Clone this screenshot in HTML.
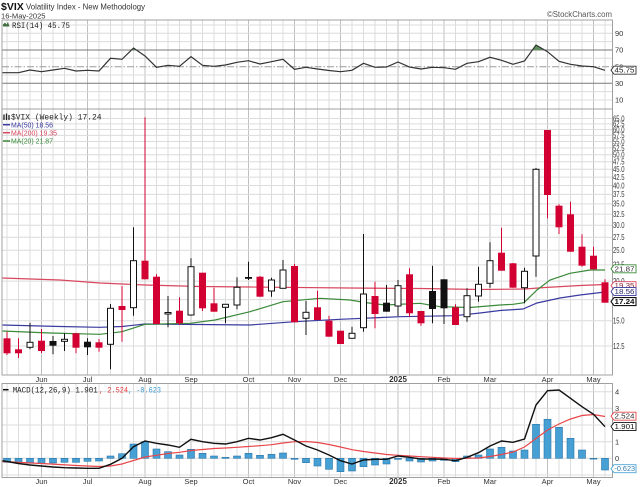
<!DOCTYPE html>
<html><head><meta charset="utf-8"><style>
html,body{margin:0;padding:0;background:#fff;}
svg{display:block;}
text{font-family:"Liberation Sans",sans-serif;}
.m{font-family:"Liberation Mono",monospace;}
</style></head><body>
<svg width="640" height="487" viewBox="0 0 640 487" xmlns="http://www.w3.org/2000/svg">
<defs>
<pattern id="vg" x="6.5" y="0" width="11.5" height="20" patternUnits="userSpaceOnUse"><rect width="1" height="20" fill="#dcdcdc"/></pattern>
</defs>
<rect width="640" height="487" fill="#fff"/>

<!-- header -->
<text x="1" y="10" font-size="10.5" font-weight="bold" fill="#111">$VIX</text>
<text x="26" y="9.5" font-size="8" fill="#333" textLength="119" lengthAdjust="spacingAndGlyphs">Volatility Index - New Methodology</text>
<text x="1" y="18.5" font-size="7.5" fill="#333" textLength="44.5" lengthAdjust="spacingAndGlyphs">16-May-2025</text>
<text x="547" y="17" font-size="8" fill="#555" textLength="65" lengthAdjust="spacingAndGlyphs">©StockCharts.com</text>

<!-- grid backgrounds (vertical weekly lines) -->
<rect x="2" y="20" width="610.5" height="89" fill="url(#vg)"/>
<rect x="2" y="109" width="610.5" height="266" fill="url(#vg)"/>
<rect x="2" y="383.5" width="610.5" height="94" fill="url(#vg)"/>

<!-- month vertical lines -->
<path d="M41.5 20V375M87.5 20V375M145 20V375M191 20V375M248.5 20V375M294.5 20V375M340.5 20V375M398 20V375M444 20V375M490 20V375M547.5 20V375M593.5 20V375
M41.5 383.5V477.5M87.5 383.5V477.5M145 383.5V477.5M191 383.5V477.5M248.5 383.5V477.5M294.5 383.5V477.5M340.5 383.5V477.5M398 383.5V477.5M444 383.5V477.5M490 383.5V477.5M547.5 383.5V477.5M593.5 383.5V477.5" stroke="#c0c0c0" stroke-width="1" fill="none"/>

<!-- horizontal grid RSI -->
<path d="M2 25H612.5M2 33.3H612.5M2 41.6H612.5M2 58.3H612.5M2 75H612.5M2 91.6H612.5M2 100H612.5" stroke="#dcdcdc" stroke-width="1"/>
<!-- horizontal grid main -->
<path d="M2 346H612.5M2 320.8H612.5M2 299.6H612.5M2 281.1H612.5M2 264.9H612.5M2 250.3H612.5M2 237.2H612.5M2 225.2H612.5M2 214.1H612.5M2 203.9H612.5M2 194.4H612.5M2 185.5H612.5M2 177.1H612.5M2 169.2H612.5M2 161.8H612.5M2 154.7H612.5M2 148H612.5M2 141.5H612.5M2 135.4H612.5M2 129.5H612.5M2 123.9H612.5M2 118.5H612.5" stroke="#dcdcdc" stroke-width="1"/>
<!-- horizontal grid MACD -->
<path d="M2 391.7H612.5M2 408.3H612.5M2 425H612.5M2 441.7H612.5M2 458.3H612.5M2 475H612.5" stroke="#dcdcdc" stroke-width="1"/>

<!-- RSI reference lines -->
<path d="M2 50H612.5M2 83.3H612.5" stroke="#7a7a7a" stroke-width="1"/>
<path d="M2 66.7H612.5" stroke="#9a9a9a" stroke-width="1" stroke-dasharray="7,2,1.5,2"/>

<!-- RSI overbought fill -->
<polygon points="532.4,50 536,45 544.6,50" fill="#5d8f5d"/>
<polygon points="131.5,50 133.5,48 136.4,50" fill="#5d8f5d"/>

<!-- RSI line -->
<polyline fill="none" stroke="#333" stroke-width="1.2" points="2,72.7 7,72.7 18.5,72.7 30,70 41.5,71.7 53,70 64.5,68.3 76,71 87.5,70.3 99,71 110.5,58.3 122,59.3 133.5,48 145,56 156.5,67.3 168,65.3 179.5,66.3 191,56.7 202.5,65.3 214,66.3 225.5,65 237,62.3 248.5,60.7 260,64 271.5,61.7 283,59.3 294.5,69.3 306,67.3 317.5,69 329,70.5 340.5,71.7 352,70.3 363.5,63.3 375,67.3 386.5,67 398,62 409.5,67 421,69 432.5,67.3 444,67.7 455.5,69.3 467,63.3 478.5,61.7 490,57.3 501.5,60.3 513,64.3 524.5,61 536,45 547.5,51.7 559,61.3 570.5,64.3 582,66 593.5,66.7 605,70.3"/>

<!-- MA lines -->
<polyline fill="none" stroke="#d9465e" stroke-width="1.2" points="2,278 60,280 100,283 145,285 200,286.5 250,287 350,288 420,288.5 480,289.5 525,289 545,287.5 580,285.5 605,284.5"/>
<polyline fill="none" stroke="#3a3aa0" stroke-width="1.2" points="2,325 60,326.5 100,327.3 122,326.5 145,324 200,324.5 250,325 295,321.7 340,319.3 400,316.7 455,315.7 480,313 500,310.5 523,309 537,303 560,298 580,295 605,292"/>
<polyline fill="none" stroke="#3a8a3a" stroke-width="1.2" points="2,331 50,333 100,334.3 122,331.7 145,324.3 190,323.3 215,320 250,311.7 283,301.7 320,298.3 350,300 365,302.5 385,305 420,303.3 440,306.7 470,307.5 500,305 513,304.3 524,302.7 537,290 550,280 570,273.3 590,270 605,270"/>

<!-- red wicks -->
<path fill="none" stroke="#d20032" stroke-width="1" d="M7 331.7V355M18.5 338.3V358M41.5 329V353M76 332.7V353.3M99 339V351.7M122 286V341.7M145 117.3V279.3M156.5 274.3V324M179.5 297.3V325M202.5 272.7V311M214 287.7V311.7M260 276V296.7M294.5 264V322.3M317.5 290.7V320M329 315.7V336.7M340.5 330.7V344M375 281.7V328.3M409.5 268.3V316.7M421 311V325.7M455.5 304.3V325M501.5 227.7V270.7M513 263V287.7M547.5 130V218.3M559 204.3V234M570.5 201.7V251.7M582 234.3V266.7M593.5 246.7V269.3M605 279.3V302.7"/>
<!-- black wicks -->
<path fill="none" stroke="#111" stroke-width="1" d="M30 322.7V349.3M53 336V354.3M64.5 333.3V351M87.5 338.3V355M110.5 304V369.3M133.5 227.3V315.7M168 296V327.3M191 258.3V315.7M225.5 304.3V323.3M237 277.3V309.3M248.5 261.7V280M271.5 277.7V296.7M283 260V288.3M306 301V335M352 326.7V338.3M363.5 234V331.7M386.5 285V311.7M398 280V316M432.5 265.7V323.3M444 279.3V324M467 288.3V321.7M478.5 266.7V301.7M490 242.3V287.7M524.5 267.7V303.3M536 168V276.7"/>

<!-- red bodies -->
<g fill="#d20032">
<rect x="3.5" y="338.3" width="7" height="15"/>
<rect x="15" y="349.3" width="7" height="4"/>
<rect x="38" y="340.7" width="7" height="10.3"/>
<rect x="72.5" y="333.3" width="7" height="14.4"/>
<rect x="95.5" y="342.3" width="7" height="5.4"/>
<rect x="118.5" y="306" width="7" height="4"/>
<rect x="141.5" y="260.7" width="7" height="18.6"/>
<rect x="153" y="276.7" width="7" height="47.3"/>
<rect x="176" y="310.7" width="7" height="12.6"/>
<rect x="199" y="272.7" width="7" height="35.6"/>
<rect x="210.5" y="303.3" width="7" height="8.4"/>
<rect x="256.5" y="276.7" width="7" height="20"/>
<rect x="291" y="266" width="7" height="56.3"/>
<rect x="314" y="307.3" width="7" height="12.7"/>
<rect x="325.5" y="320.7" width="7" height="16"/>
<rect x="337" y="330.7" width="7" height="13.3"/>
<rect x="371.5" y="296" width="7" height="18"/>
<rect x="406" y="274.3" width="7" height="39"/>
<rect x="417.5" y="311" width="7" height="12.3"/>
<rect x="452" y="307.3" width="7" height="17.7"/>
<rect x="498" y="252.7" width="7" height="18"/>
<rect x="509.5" y="263.3" width="7" height="24.4"/>
<rect x="544" y="130" width="7" height="65"/>
<rect x="555.5" y="205.7" width="7" height="21.6"/>
<rect x="567" y="214.3" width="7" height="37.4"/>
<rect x="578.5" y="246.7" width="7" height="19"/>
<rect x="590" y="255.7" width="7" height="13.6"/>
<rect x="601.5" y="282.3" width="7" height="20.4"/>
</g>
<!-- hollow bodies -->
<g fill="#fff" stroke="#111" stroke-width="1">
<rect x="27" y="342.3" width="6" height="5"/>
<rect x="61.5" y="339.3" width="6" height="2"/>
<rect x="107.5" y="308.3" width="6" height="36"/>
<rect x="130.5" y="260.7" width="6" height="47"/>
<rect x="165" y="312.5" width="6" height="1.5"/>
<rect x="188" y="266.7" width="6" height="48.3"/>
<rect x="222.5" y="304.3" width="6" height="3"/>
<rect x="234" y="287.3" width="6" height="17.7"/>
<rect x="268.5" y="280" width="6" height="11"/>
<rect x="280" y="270" width="6" height="18.3"/>
<rect x="303" y="312.3" width="6" height="6"/>
<rect x="349" y="333.3" width="6" height="5"/>
<rect x="360.5" y="294" width="6" height="33.7"/>
<rect x="395" y="285.7" width="6" height="20.3"/>
<rect x="464" y="295.7" width="6" height="21"/>
<rect x="475.5" y="284.3" width="6" height="11.7"/>
<rect x="487" y="260.7" width="6" height="22.6"/>
<rect x="521.5" y="271.3" width="6" height="16.4"/>
<rect x="533" y="169.3" width="6" height="86.7"/>
</g>
<!-- black bodies -->
<g fill="#111">
<rect x="49.5" y="341" width="7" height="4.7"/>
<rect x="84" y="341.7" width="7" height="5.6"/>
<rect x="245" y="277" width="7" height="1.8"/>
<rect x="383" y="302.7" width="7" height="9"/>
<rect x="429" y="291" width="7" height="18"/>
<rect x="440.5" y="279.3" width="7" height="29"/>
</g>

<!-- MACD histogram -->
<g fill="#47a0d3" stroke="#2a76aa" stroke-width="0.6">
<rect x="3.5" y="458.3" width="7" height="4"/>
<rect x="15" y="458.3" width="7" height="4.4"/>
<rect x="26.5" y="458.3" width="7" height="5"/>
<rect x="38" y="458.3" width="7" height="5.4"/>
<rect x="49.5" y="458.3" width="7" height="4.7"/>
<rect x="61" y="458.3" width="7" height="4"/>
<rect x="72.5" y="458.3" width="7" height="4"/>
<rect x="84" y="458.3" width="7" height="3"/>
<rect x="95.5" y="458.3" width="7" height="2.7"/>
<rect x="107" y="456" width="7" height="2.3"/>
<rect x="118.5" y="453.7" width="7" height="4.6"/>
<rect x="130" y="444" width="7" height="14.3"/>
<rect x="141.5" y="441.7" width="7" height="16.6"/>
<rect x="153" y="449" width="7" height="9.3"/>
<rect x="164.5" y="451.7" width="7" height="6.6"/>
<rect x="176" y="455" width="7" height="3.3"/>
<rect x="187.5" y="449.3" width="7" height="9"/>
<rect x="199" y="453.3" width="7" height="5"/>
<rect x="210.5" y="456" width="7" height="2.3"/>
<rect x="222" y="457.3" width="7" height="1"/>
<rect x="233.5" y="456" width="7" height="2.3"/>
<rect x="245" y="453.3" width="7" height="5"/>
<rect x="256.5" y="455.3" width="7" height="3"/>
<rect x="268" y="454.3" width="7" height="4"/>
<rect x="279.5" y="453" width="7" height="5.3"/>
<rect x="291" y="458.3" width="7" height="1"/>
<rect x="302.5" y="458.3" width="7" height="4.4"/>
<rect x="314" y="458.3" width="7" height="7.7"/>
<rect x="325.5" y="458.3" width="7" height="11"/>
<rect x="337" y="458.3" width="7" height="13.4"/>
<rect x="348.5" y="458.3" width="7" height="12.7"/>
<rect x="360" y="458.3" width="7" height="8.4"/>
<rect x="371.5" y="458.3" width="7" height="6.7"/>
<rect x="383" y="458.3" width="7" height="5.7"/>
<rect x="394.5" y="458.3" width="7" height="1"/>
<rect x="406" y="458.3" width="7" height="2.7"/>
<rect x="417.5" y="458.3" width="7" height="3.7"/>
<rect x="429" y="458.3" width="7" height="2.7"/>
<rect x="440.5" y="458.3" width="7" height="2"/>
<rect x="452" y="458.3" width="7" height="3.4"/>
<rect x="463.5" y="456" width="7" height="2.3"/>
<rect x="475" y="455" width="7" height="3.3"/>
<rect x="486.5" y="449" width="7" height="9.3"/>
<rect x="498" y="447.3" width="7" height="11"/>
<rect x="509.5" y="451" width="7" height="7.3"/>
<rect x="521" y="450" width="7" height="8.3"/>
<rect x="532.5" y="424.3" width="7" height="34"/>
<rect x="544" y="419.3" width="7" height="39"/>
<rect x="555.5" y="427.3" width="7" height="31"/>
<rect x="567" y="438.3" width="7" height="20"/>
<rect x="578.5" y="450" width="7" height="8.3"/>
<rect x="590" y="458.3" width="7" height="0.8"/>
<rect x="601.5" y="458.3" width="7" height="11.7"/>
</g>

<!-- MACD signal -->
<polyline fill="none" stroke="#e8464a" stroke-width="1.2" points="2,461.5 41.5,463.5 76,465.5 99,466.5 110.5,466 122,464 133.5,460.5 145,457 156.5,455.3 168,453.5 179.5,452.3 191,450.5 202.5,449.5 214,448.5 225.5,448 237,447.3 248.5,446.5 260,445.7 271.5,444.7 283,443 294.5,441.7 306,441.5 317.5,442.5 329,444.5 340.5,447 352,449.7 363.5,451.5 375,453 386.5,454.5 398,455.3 409.5,456 421,456.7 432.5,457.3 444,458 455.5,458.5 467,458.3 478.5,458 490,456.5 501.5,454.5 513,452 524.5,447 536,438.5 547.5,430 559,424 570.5,419 582,415.5 593.5,414.5 605,416.5"/>
<!-- MACD line -->
<polyline fill="none" stroke="#111" stroke-width="1.4" points="2,460.7 7,461.5 18.5,463.5 30,465 41.5,466 53,467 64.5,467.7 76,468 87.5,468.3 99,468.3 110.5,464.3 122,458.3 133.5,446.7 145,441 156.5,443.3 168,445 179.5,447.3 191,439.3 202.5,441.7 214,443.3 225.5,444 237,441.7 248.5,438.3 260,440 271.5,437.7 283,434.3 294.5,440 306,446 317.5,450 329,455 340.5,460.7 352,464 363.5,460 375,459.3 386.5,459.3 398,456 409.5,457.3 421,459 432.5,459 444,459.3 455.5,460.7 467,457.3 478.5,452.7 490,446 501.5,441 513,442.3 524.5,439 536,405 547.5,390.7 559,390 570.5,398.3 582,406.7 593.5,414.3 605,426.7"/>

<!-- panel borders -->
<g fill="none" stroke="#a0a0a0" stroke-width="1">
<rect x="2" y="20" width="610.5" height="89"/>
<rect x="2" y="109" width="610.5" height="266"/>
<rect x="2" y="383.5" width="610.5" height="94"/>
</g>

<!-- legends -->
<path d="M3 24.5l2 -2 1.5 2 1.5 -2.5 1.5 4.5H3z" fill="#3f6f3f"/>
<text class="m" x="12" y="28" font-size="8" fill="#222" textLength="58" lengthAdjust="spacingAndGlyphs">RSI(14) 45.75</text>

<path d="M4 114.5V120M6.5 113.5V120M9 115V120" stroke="#222" stroke-width="1.3"/>
<text class="m" x="11" y="119.5" font-size="8" fill="#222" textLength="90.5" lengthAdjust="spacingAndGlyphs">$VIX (Weekly) 17.24</text>
<path d="M3 124.7H10" stroke="#3a3aa0" stroke-width="1.5"/>
<text x="11" y="127.3" font-size="7.5" fill="#3a3aa0" textLength="42" lengthAdjust="spacingAndGlyphs">MA(50) 18.56</text>
<path d="M3 132.7H10" stroke="#d9465e" stroke-width="1.5"/>
<text x="11" y="135.3" font-size="7.5" fill="#d9465e" textLength="46" lengthAdjust="spacingAndGlyphs">MA(200) 19.35</text>
<path d="M3 141H10" stroke="#3a8a3a" stroke-width="1.5"/>
<text x="11" y="143.6" font-size="7.5" fill="#3a8a3a" textLength="42" lengthAdjust="spacingAndGlyphs">MA(20) 21.87</text>

<path d="M3 389.7H8.5" stroke="#111" stroke-width="1.5"/>
<text class="m" x="12.7" y="392.5" font-size="8" fill="#222" textLength="85" lengthAdjust="spacingAndGlyphs">MACD(12,26,9) 1.901</text>
<text class="m" x="99" y="392.5" font-size="8" fill="#e03a3a" textLength="29" lengthAdjust="spacingAndGlyphs">, 2.524</text>
<text class="m" x="128" y="392.5" font-size="8" fill="#3d9ad0" textLength="33" lengthAdjust="spacingAndGlyphs">, -0.623</text>

<!-- x-axis labels -->
<g font-size="7.5" fill="#333" text-anchor="middle">
<text x="41.5" y="382">Jun</text><text x="87.5" y="382">Jul</text><text x="145" y="382">Aug</text><text x="191" y="382">Sep</text><text x="248.5" y="382">Oct</text><text x="294.5" y="382">Nov</text><text x="340.5" y="382">Dec</text><text x="398" y="382" font-weight="bold" font-size="8">2025</text><text x="444" y="382">Feb</text><text x="490" y="382">Mar</text><text x="547.5" y="382">Apr</text><text x="593.5" y="382">May</text>
<text x="41.5" y="484">Jun</text><text x="87.5" y="484">Jul</text><text x="145" y="484">Aug</text><text x="191" y="484">Sep</text><text x="248.5" y="484">Oct</text><text x="294.5" y="484">Nov</text><text x="340.5" y="484">Dec</text><text x="398" y="484" font-weight="bold" font-size="8">2025</text><text x="444" y="484">Feb</text><text x="490" y="484">Mar</text><text x="547.5" y="484">Apr</text><text x="593.5" y="484">May</text>
</g>

<!-- right axis labels RSI -->
<g font-size="7.5" fill="#333">
<text x="615" y="36">90</text><text x="615" y="52.7">70</text><text x="615" y="69.4">50</text><text x="615" y="86">30</text><text x="615" y="102.7">10</text>
</g>
<!-- right axis labels main -->
<g font-size="8" fill="#333">
<text x="613" y="121.3" textLength="11.5" lengthAdjust="spacingAndGlyphs">65.0</text>
<text x="613" y="126.7" textLength="11.5" lengthAdjust="spacingAndGlyphs">62.5</text>
<text x="613" y="132.3" textLength="11.5" lengthAdjust="spacingAndGlyphs">60.0</text>
<text x="613" y="138.2" textLength="11.5" lengthAdjust="spacingAndGlyphs">57.5</text>
<text x="613" y="144.3" textLength="11.5" lengthAdjust="spacingAndGlyphs">55.0</text>
<text x="613" y="150.8" textLength="11.5" lengthAdjust="spacingAndGlyphs">52.5</text>
<text x="613" y="157.5" textLength="11.5" lengthAdjust="spacingAndGlyphs">50.0</text>
<text x="613" y="164.6" textLength="11.5" lengthAdjust="spacingAndGlyphs">47.5</text>
<text x="613" y="172" textLength="11.5" lengthAdjust="spacingAndGlyphs">45.0</text>
<text x="613" y="179.9" textLength="11.5" lengthAdjust="spacingAndGlyphs">42.5</text>
<text x="613" y="188.3" textLength="11.5" lengthAdjust="spacingAndGlyphs">40.0</text>
<text x="613" y="197.2" textLength="11.5" lengthAdjust="spacingAndGlyphs">37.5</text>
<text x="613" y="206.7" textLength="11.5" lengthAdjust="spacingAndGlyphs">35.0</text>
<text x="613" y="216.9" textLength="11.5" lengthAdjust="spacingAndGlyphs">32.5</text>
<text x="613" y="228" textLength="11.5" lengthAdjust="spacingAndGlyphs">30.0</text>
<text x="613" y="240" textLength="11.5" lengthAdjust="spacingAndGlyphs">27.5</text>
<text x="613" y="253.1" textLength="11.5" lengthAdjust="spacingAndGlyphs">25.0</text>
<text x="613" y="267.7" textLength="11.5" lengthAdjust="spacingAndGlyphs">22.5</text>
<text x="613" y="283.9" textLength="11.5" lengthAdjust="spacingAndGlyphs">20.0</text>
<text x="613" y="323.6" textLength="11.5" lengthAdjust="spacingAndGlyphs">15.0</text>
<text x="613" y="348.8" textLength="11.5" lengthAdjust="spacingAndGlyphs">12.5</text>
</g>
<!-- right axis labels MACD -->
<g font-size="7.5" fill="#333">
<text x="615" y="394.4">4</text><text x="615" y="411">3</text><text x="615" y="427.7">2</text><text x="615" y="444.4">1</text><text x="615" y="461">0</text>
</g>

<!-- value tags -->
<g font-size="7" text-anchor="start">
<polygon points="611,70.2 614,66.2 636,66.2 636,74.2 614,74.2" fill="#fff" stroke="#333" stroke-width="0.9"/>
<text x="614.5" y="72.7" fill="#222" textLength="20" lengthAdjust="spacingAndGlyphs">45.75</text>

<polygon points="611,268.8 614,264.8 636,264.8 636,272.8 614,272.8" fill="#fff" stroke="#3a8a3a" stroke-width="0.9"/>
<text x="614.5" y="271.3" fill="#333" textLength="20" lengthAdjust="spacingAndGlyphs">21.87</text>

<polygon points="611,285.7 614,281.7 636,281.7 636,289.7 614,289.7" fill="#fff" stroke="#d9465e" stroke-width="0.9"/>
<text x="614.5" y="288.2" fill="#8a2a3a" textLength="20" lengthAdjust="spacingAndGlyphs">19.35</text>

<polygon points="611,291.6 614,287.6 636,287.6 636,295.6 614,295.6" fill="#fff" stroke="#3a3aa0" stroke-width="0.9"/>
<text x="614.5" y="294.1" fill="#2a2a70" textLength="20" lengthAdjust="spacingAndGlyphs">18.56</text>

<polygon points="611,301.6 614,297.6 636,297.6 636,305.6 614,305.6" fill="#fff" stroke="#111" stroke-width="1.1"/>
<text x="614.5" y="304.1" fill="#111" font-weight="bold" textLength="20" lengthAdjust="spacingAndGlyphs">17.24</text>

<polygon points="611,416.2 614,412.2 636,412.2 636,420.2 614,420.2" fill="#fff" stroke="#e8464a" stroke-width="0.9"/>
<text x="614.5" y="418.7" fill="#333" textLength="20" lengthAdjust="spacingAndGlyphs">2.524</text>

<polygon points="611,426.6 614,422.6 636,422.6 636,430.6 614,430.6" fill="#fff" stroke="#111" stroke-width="0.9"/>
<text x="614.5" y="429.1" fill="#111" textLength="20" lengthAdjust="spacingAndGlyphs">1.901</text>

<polygon points="611,468.7 614,464.7 636,464.7 636,472.7 614,472.7" fill="#fff" stroke="#4fa6d6" stroke-width="0.9"/>
<text x="614.5" y="471.2" fill="#2e7cae" textLength="20.5" lengthAdjust="spacingAndGlyphs">-0.623</text>
</g>
</svg>
</body></html>
